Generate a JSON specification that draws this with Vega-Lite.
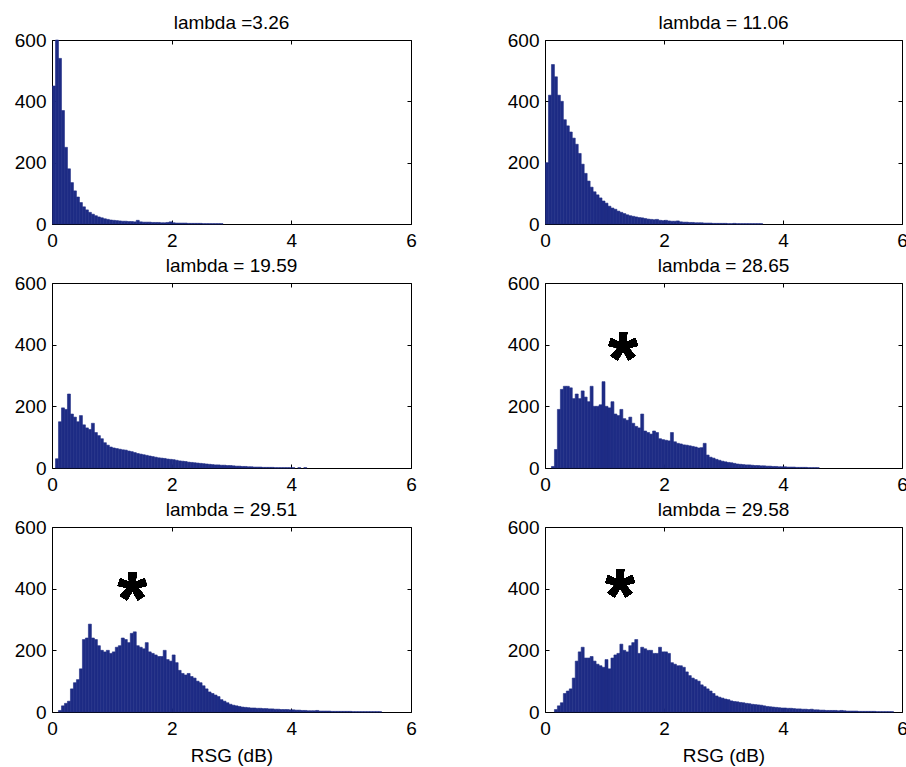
{
  "$schema": "https://vega.github.io/schema/vega-lite/v6.json",
  "background": "white",
  "padding": {"left": 13, "top": 13, "right": 0, "bottom": 0},
  "datasets": {
    "p1": [
      {"x":0.025,"n":450},{"x":0.075,"n":600},{"x":0.125,"n":540},{"x":0.175,"n":370},{"x":0.225,"n":250},{"x":0.275,"n":180},{"x":0.325,"n":135},{"x":0.375,"n":108},{"x":0.425,"n":88},{"x":0.475,"n":70},
      {"x":0.525,"n":56},{"x":0.575,"n":46},{"x":0.625,"n":38},{"x":0.675,"n":32},{"x":0.725,"n":27},{"x":0.775,"n":23},{"x":0.825,"n":20},{"x":0.875,"n":17},{"x":0.925,"n":15},{"x":0.975,"n":13},
      {"x":1.025,"n":12},{"x":1.075,"n":11},{"x":1.125,"n":10},{"x":1.175,"n":9},{"x":1.225,"n":9},{"x":1.275,"n":8},{"x":1.325,"n":8},{"x":1.375,"n":7},{"x":1.425,"n":12},{"x":1.475,"n":7},
      {"x":1.525,"n":6},{"x":1.575,"n":6},{"x":1.625,"n":6},{"x":1.675,"n":5},{"x":1.725,"n":5},{"x":1.775,"n":5},{"x":1.825,"n":4},{"x":1.875,"n":4},{"x":1.925,"n":5},{"x":1.975,"n":7},
      {"x":2.025,"n":4},{"x":2.075,"n":3},{"x":2.125,"n":3},{"x":2.175,"n":3},{"x":2.225,"n":3},{"x":2.275,"n":2},{"x":2.325,"n":2},{"x":2.375,"n":2},{"x":2.425,"n":2},{"x":2.475,"n":2},
      {"x":2.525,"n":1},{"x":2.575,"n":1},{"x":2.625,"n":1},{"x":2.675,"n":1},{"x":2.725,"n":1},{"x":2.775,"n":1},{"x":2.825,"n":1}
    ],
    "p2": [
      {"x":0.025,"n":200},{"x":0.075,"n":420},{"x":0.125,"n":520},{"x":0.175,"n":480},{"x":0.225,"n":420},{"x":0.275,"n":400},{"x":0.325,"n":340},{"x":0.375,"n":320},{"x":0.425,"n":300},{"x":0.475,"n":280},
      {"x":0.525,"n":260},{"x":0.575,"n":230},{"x":0.625,"n":195},{"x":0.675,"n":165},{"x":0.725,"n":140},{"x":0.775,"n":120},{"x":0.825,"n":105},{"x":0.875,"n":95},{"x":0.925,"n":85},{"x":0.975,"n":75},
      {"x":1.025,"n":68},{"x":1.075,"n":58},{"x":1.125,"n":52},{"x":1.175,"n":48},{"x":1.225,"n":42},{"x":1.275,"n":38},{"x":1.325,"n":34},{"x":1.375,"n":30},{"x":1.425,"n":27},{"x":1.475,"n":25},
      {"x":1.525,"n":23},{"x":1.575,"n":21},{"x":1.625,"n":20},{"x":1.675,"n":18},{"x":1.725,"n":16},{"x":1.775,"n":15},{"x":1.825,"n":14},{"x":1.875,"n":15},{"x":1.925,"n":12},{"x":1.975,"n":11},
      {"x":2.025,"n":12},{"x":2.075,"n":10},{"x":2.125,"n":9},{"x":2.175,"n":9},{"x":2.225,"n":10},{"x":2.275,"n":7},{"x":2.325,"n":6},{"x":2.375,"n":6},{"x":2.425,"n":5},{"x":2.475,"n":5},
      {"x":2.525,"n":4},{"x":2.575,"n":4},{"x":2.625,"n":4},{"x":2.675,"n":3},{"x":2.725,"n":3},{"x":2.775,"n":3},{"x":2.825,"n":2},{"x":2.875,"n":2},{"x":2.925,"n":2},{"x":2.975,"n":2},
      {"x":3.025,"n":2},{"x":3.075,"n":1},{"x":3.125,"n":1},{"x":3.175,"n":2},{"x":3.225,"n":1},{"x":3.275,"n":1},{"x":3.325,"n":1},{"x":3.375,"n":1},{"x":3.425,"n":1},{"x":3.475,"n":1},
      {"x":3.525,"n":1},{"x":3.575,"n":1},{"x":3.625,"n":1}
    ],
    "p3": [
      {"x":0.075,"n":30},{"x":0.125,"n":150},{"x":0.175,"n":195},{"x":0.225,"n":190},{"x":0.275,"n":240},{"x":0.325,"n":175},{"x":0.375,"n":165},{"x":0.425,"n":150},{"x":0.475,"n":170},
      {"x":0.525,"n":140},{"x":0.575,"n":130},{"x":0.625,"n":125},{"x":0.675,"n":145},{"x":0.725,"n":115},{"x":0.775,"n":105},{"x":0.825,"n":95},{"x":0.875,"n":82},{"x":0.925,"n":74},{"x":0.975,"n":68},
      {"x":1.025,"n":65},{"x":1.075,"n":63},{"x":1.125,"n":61},{"x":1.175,"n":59},{"x":1.225,"n":58},{"x":1.275,"n":55},{"x":1.325,"n":53},{"x":1.375,"n":50},{"x":1.425,"n":47},{"x":1.475,"n":45},
      {"x":1.525,"n":43},{"x":1.575,"n":41},{"x":1.625,"n":39},{"x":1.675,"n":37},{"x":1.725,"n":35},{"x":1.775,"n":33},{"x":1.825,"n":32},{"x":1.875,"n":31},{"x":1.925,"n":29},{"x":1.975,"n":28},
      {"x":2.025,"n":27},{"x":2.075,"n":25},{"x":2.125,"n":23},{"x":2.175,"n":22},{"x":2.225,"n":21},{"x":2.275,"n":19},{"x":2.325,"n":18},{"x":2.375,"n":17},{"x":2.425,"n":16},{"x":2.475,"n":15},
      {"x":2.525,"n":14},{"x":2.575,"n":13},{"x":2.625,"n":12},{"x":2.675,"n":11},{"x":2.725,"n":10},{"x":2.775,"n":10},{"x":2.825,"n":9},{"x":2.875,"n":9},{"x":2.925,"n":8},{"x":2.975,"n":8},
      {"x":3.025,"n":7},{"x":3.075,"n":6},{"x":3.125,"n":6},{"x":3.175,"n":5},{"x":3.225,"n":5},{"x":3.275,"n":4},{"x":3.325,"n":4},{"x":3.375,"n":3},{"x":3.425,"n":3},{"x":3.475,"n":3},
      {"x":3.525,"n":2},{"x":3.575,"n":2},{"x":3.625,"n":2},{"x":3.675,"n":2},{"x":3.725,"n":1},{"x":3.775,"n":1},{"x":3.825,"n":1},{"x":3.875,"n":1},{"x":3.925,"n":1},{"x":3.975,"n":1},
      {"x":4.025,"n":1},{"x":4.125,"n":1},{"x":4.225,"n":1}
    ],
    "p4": [
      {"x":0.125,"n":5},{"x":0.175,"n":60},{"x":0.225,"n":190},{"x":0.275,"n":255},{"x":0.325,"n":265},{"x":0.375,"n":265},{"x":0.425,"n":260},{"x":0.475,"n":225},
      {"x":0.525,"n":240},{"x":0.575,"n":225},{"x":0.625,"n":250},{"x":0.675,"n":230},{"x":0.725,"n":215},{"x":0.775,"n":265},{"x":0.825,"n":200},{"x":0.875,"n":200},{"x":0.925,"n":205},{"x":0.975,"n":280},
      {"x":1.025,"n":200},{"x":1.075,"n":195},{"x":1.125,"n":215},{"x":1.175,"n":175},{"x":1.225,"n":170},{"x":1.275,"n":190},{"x":1.325,"n":160},{"x":1.375,"n":155},{"x":1.425,"n":165},{"x":1.475,"n":145},
      {"x":1.525,"n":135},{"x":1.575,"n":130},{"x":1.625,"n":175},{"x":1.675,"n":120},{"x":1.725,"n":115},{"x":1.775,"n":110},{"x":1.825,"n":120},{"x":1.875,"n":115},{"x":1.925,"n":95},{"x":1.975,"n":92},
      {"x":2.025,"n":90},{"x":2.075,"n":88},{"x":2.125,"n":115},{"x":2.175,"n":85},{"x":2.225,"n":80},{"x":2.275,"n":78},{"x":2.325,"n":75},{"x":2.375,"n":74},{"x":2.425,"n":72},{"x":2.475,"n":70},
      {"x":2.525,"n":68},{"x":2.575,"n":65},{"x":2.625,"n":66},{"x":2.675,"n":80},{"x":2.725,"n":42},{"x":2.775,"n":35},{"x":2.825,"n":32},{"x":2.875,"n":28},{"x":2.925,"n":25},{"x":2.975,"n":22},
      {"x":3.025,"n":20},{"x":3.075,"n":18},{"x":3.125,"n":17},{"x":3.175,"n":15},{"x":3.225,"n":13},{"x":3.275,"n":12},{"x":3.325,"n":11},{"x":3.375,"n":10},{"x":3.425,"n":10},{"x":3.475,"n":9},
      {"x":3.525,"n":8},{"x":3.575,"n":8},{"x":3.625,"n":7},{"x":3.675,"n":7},{"x":3.725,"n":6},{"x":3.775,"n":6},{"x":3.825,"n":5},{"x":3.875,"n":5},{"x":3.925,"n":4},{"x":3.975,"n":4},
      {"x":4.025,"n":4},{"x":4.075,"n":3},{"x":4.125,"n":3},{"x":4.175,"n":3},{"x":4.225,"n":2},{"x":4.275,"n":2},{"x":4.325,"n":2},{"x":4.375,"n":2},{"x":4.425,"n":1},{"x":4.475,"n":1},
      {"x":4.525,"n":1},{"x":4.575,"n":1}
    ],
    "p5": [
      {"x":0.125,"n":5},{"x":0.175,"n":20},{"x":0.225,"n":28},{"x":0.275,"n":35},{"x":0.325,"n":75},{"x":0.375,"n":95},{"x":0.425,"n":105},{"x":0.475,"n":140},
      {"x":0.525,"n":235},{"x":0.575,"n":240},{"x":0.625,"n":285},{"x":0.675,"n":240},{"x":0.725,"n":235},{"x":0.775,"n":215},{"x":0.825,"n":200},{"x":0.875,"n":195},{"x":0.925,"n":200},{"x":0.975,"n":190},
      {"x":1.025,"n":195},{"x":1.075,"n":210},{"x":1.125,"n":215},{"x":1.175,"n":240},{"x":1.225,"n":235},{"x":1.275,"n":225},{"x":1.325,"n":255},{"x":1.375,"n":260},{"x":1.425,"n":215},{"x":1.475,"n":210},
      {"x":1.525,"n":205},{"x":1.575,"n":225},{"x":1.625,"n":195},{"x":1.675,"n":190},{"x":1.725,"n":185},{"x":1.775,"n":180},{"x":1.825,"n":180},{"x":1.875,"n":200},{"x":1.925,"n":170},{"x":1.975,"n":165},
      {"x":2.025,"n":185},{"x":2.075,"n":160},{"x":2.125,"n":135},{"x":2.175,"n":125},{"x":2.225,"n":120},{"x":2.275,"n":125},{"x":2.325,"n":115},{"x":2.375,"n":110},{"x":2.425,"n":100},{"x":2.475,"n":95},
      {"x":2.525,"n":85},{"x":2.575,"n":75},{"x":2.625,"n":65},{"x":2.675,"n":60},{"x":2.725,"n":55},{"x":2.775,"n":50},{"x":2.825,"n":40},{"x":2.875,"n":35},{"x":2.925,"n":30},{"x":2.975,"n":25},
      {"x":3.025,"n":22},{"x":3.075,"n":20},{"x":3.125,"n":18},{"x":3.175,"n":16},{"x":3.225,"n":15},{"x":3.275,"n":14},{"x":3.325,"n":13},{"x":3.375,"n":13},{"x":3.425,"n":12},{"x":3.475,"n":12},
      {"x":3.525,"n":11},{"x":3.575,"n":11},{"x":3.625,"n":10},{"x":3.675,"n":10},{"x":3.725,"n":9},{"x":3.775,"n":9},{"x":3.825,"n":8},{"x":3.875,"n":8},{"x":3.925,"n":8},{"x":3.975,"n":7},
      {"x":4.025,"n":7},{"x":4.075,"n":6},{"x":4.125,"n":6},{"x":4.175,"n":5},{"x":4.225,"n":5},{"x":4.275,"n":4},{"x":4.325,"n":4},{"x":4.375,"n":4},{"x":4.425,"n":5},{"x":4.475,"n":3},
      {"x":4.525,"n":3},{"x":4.575,"n":3},{"x":4.625,"n":3},{"x":4.675,"n":2},{"x":4.725,"n":2},{"x":4.775,"n":2},{"x":4.825,"n":2},{"x":4.875,"n":2},{"x":4.925,"n":2},{"x":4.975,"n":2},
      {"x":5.025,"n":1},{"x":5.075,"n":1},{"x":5.125,"n":1},{"x":5.175,"n":1},{"x":5.225,"n":1},{"x":5.275,"n":1},{"x":5.325,"n":1},{"x":5.375,"n":1},{"x":5.425,"n":1},{"x":5.475,"n":1}
    ],
    "p6": [
      {"x":0.175,"n":8},{"x":0.225,"n":20},{"x":0.275,"n":30},{"x":0.325,"n":60},{"x":0.375,"n":68},{"x":0.425,"n":75},{"x":0.475,"n":110},
      {"x":0.525,"n":165},{"x":0.575,"n":195},{"x":0.625,"n":210},{"x":0.675,"n":175},{"x":0.725,"n":175},{"x":0.775,"n":180},{"x":0.825,"n":165},{"x":0.875,"n":155},{"x":0.925,"n":150},{"x":0.975,"n":145},
      {"x":1.025,"n":170},{"x":1.075,"n":140},{"x":1.125,"n":175},{"x":1.175,"n":185},{"x":1.225,"n":190},{"x":1.275,"n":220},{"x":1.325,"n":200},{"x":1.375,"n":195},{"x":1.425,"n":215},{"x":1.475,"n":225},
      {"x":1.525,"n":235},{"x":1.575,"n":190},{"x":1.625,"n":210},{"x":1.675,"n":205},{"x":1.725,"n":200},{"x":1.775,"n":200},{"x":1.825,"n":190},{"x":1.875,"n":190},{"x":1.925,"n":210},{"x":1.975,"n":195},
      {"x":2.025,"n":195},{"x":2.075,"n":190},{"x":2.125,"n":160},{"x":2.175,"n":155},{"x":2.225,"n":150},{"x":2.275,"n":150},{"x":2.325,"n":145},{"x":2.375,"n":130},{"x":2.425,"n":118},{"x":2.475,"n":110},
      {"x":2.525,"n":105},{"x":2.575,"n":100},{"x":2.625,"n":88},{"x":2.675,"n":82},{"x":2.725,"n":75},{"x":2.775,"n":68},{"x":2.825,"n":60},{"x":2.875,"n":52},{"x":2.925,"n":48},{"x":2.975,"n":45},
      {"x":3.025,"n":42},{"x":3.075,"n":40},{"x":3.125,"n":36},{"x":3.175,"n":34},{"x":3.225,"n":33},{"x":3.275,"n":31},{"x":3.325,"n":30},{"x":3.375,"n":28},{"x":3.425,"n":27},{"x":3.475,"n":25},
      {"x":3.525,"n":24},{"x":3.575,"n":23},{"x":3.625,"n":22},{"x":3.675,"n":20},{"x":3.725,"n":18},{"x":3.775,"n":17},{"x":3.825,"n":16},{"x":3.875,"n":15},{"x":3.925,"n":14},{"x":3.975,"n":13},
      {"x":4.025,"n":13},{"x":4.075,"n":12},{"x":4.125,"n":12},{"x":4.175,"n":11},{"x":4.225,"n":10},{"x":4.275,"n":10},{"x":4.325,"n":9},{"x":4.375,"n":9},{"x":4.425,"n":8},{"x":4.475,"n":9},
      {"x":4.525,"n":7},{"x":4.575,"n":7},{"x":4.625,"n":6},{"x":4.675,"n":6},{"x":4.725,"n":5},{"x":4.775,"n":5},{"x":4.825,"n":5},{"x":4.875,"n":5},{"x":4.925,"n":4},{"x":4.975,"n":5},
      {"x":5.025,"n":4},{"x":5.075,"n":3},{"x":5.125,"n":3},{"x":5.175,"n":3},{"x":5.225,"n":3},{"x":5.275,"n":2},{"x":5.325,"n":2},{"x":5.375,"n":2},{"x":5.425,"n":2},{"x":5.475,"n":2},
      {"x":5.525,"n":2},{"x":5.575,"n":1},{"x":5.625,"n":1},{"x":5.675,"n":1},{"x":5.725,"n":1},{"x":5.775,"n":1},{"x":5.825,"n":1}
    ]
  },
  "columns": 2,
  "spacing": {"row": 59, "column": 134},
  "bounds": "flush",
  "concat": [
    {
      "width": 359, "height": 184,
      "data": {"name": "p1"},
      "title": "lambda =3.26",
      "layer": [
        {"mark": {"type": "bar", "fill": "#1e2c85", "stroke": "#1e2c85", "strokeWidth": 0.6, "binSpacing": 0},
         "encoding": {
           "x": {"field": "x", "type": "quantitative", "bin": {"extent": [0, 6], "step": 0.05}, "scale": {"domain": [0, 6], "padding": 0, "nice": false}, "axis": {"values": [0, 2, 4, 6], "format": "d", "title": null}},
           "y": {"aggregate": "sum", "field": "n", "type": "quantitative", "scale": {"domain": [0, 600], "padding": 0, "nice": false}, "axis": {"values": [0, 200, 400, 600], "title": null}}}},
        {"mark": {"type": "bar", "opacity": 0, "binSpacing": 0},
         "encoding": {
           "x": {"field": "x", "type": "quantitative", "bin": {"extent": [0, 6], "step": 0.05}, "axis": {"orient": "top", "values": [0, 2, 4, 6], "labels": false, "title": null}},
           "y": {"aggregate": "sum", "field": "n", "type": "quantitative", "axis": {"orient": "right", "values": [0, 200, 400, 600], "labels": false, "title": null}}}}
      ],
      "resolve": {"axis": {"x": "independent", "y": "independent"}}
    },
    {
      "width": 357, "height": 184,
      "data": {"name": "p2"},
      "title": "lambda = 11.06",
      "layer": [
        {"mark": {"type": "bar", "fill": "#1e2c85", "stroke": "#1e2c85", "strokeWidth": 0.6, "binSpacing": 0},
         "encoding": {
           "x": {"field": "x", "type": "quantitative", "bin": {"extent": [0, 6], "step": 0.05}, "scale": {"domain": [0, 6], "padding": 0, "nice": false}, "axis": {"values": [0, 2, 4, 6], "format": "d", "title": null}},
           "y": {"aggregate": "sum", "field": "n", "type": "quantitative", "scale": {"domain": [0, 600], "padding": 0, "nice": false}, "axis": {"values": [0, 200, 400, 600], "title": null}}}},
        {"mark": {"type": "bar", "opacity": 0, "binSpacing": 0},
         "encoding": {
           "x": {"field": "x", "type": "quantitative", "bin": {"extent": [0, 6], "step": 0.05}, "axis": {"orient": "top", "values": [0, 2, 4, 6], "labels": false, "title": null}},
           "y": {"aggregate": "sum", "field": "n", "type": "quantitative", "axis": {"orient": "right", "values": [0, 200, 400, 600], "labels": false, "title": null}}}}
      ],
      "resolve": {"axis": {"x": "independent", "y": "independent"}}
    },
    {
      "width": 359, "height": 185,
      "data": {"name": "p3"},
      "title": "lambda = 19.59",
      "layer": [
        {"mark": {"type": "bar", "fill": "#1e2c85", "stroke": "#1e2c85", "strokeWidth": 0.6, "binSpacing": 0},
         "encoding": {
           "x": {"field": "x", "type": "quantitative", "bin": {"extent": [0, 6], "step": 0.05}, "scale": {"domain": [0, 6], "padding": 0, "nice": false}, "axis": {"values": [0, 2, 4, 6], "format": "d", "title": null}},
           "y": {"aggregate": "sum", "field": "n", "type": "quantitative", "scale": {"domain": [0, 600], "padding": 0, "nice": false}, "axis": {"values": [0, 200, 400, 600], "title": null}}}},
        {"mark": {"type": "bar", "opacity": 0, "binSpacing": 0},
         "encoding": {
           "x": {"field": "x", "type": "quantitative", "bin": {"extent": [0, 6], "step": 0.05}, "axis": {"orient": "top", "values": [0, 2, 4, 6], "labels": false, "title": null}},
           "y": {"aggregate": "sum", "field": "n", "type": "quantitative", "axis": {"orient": "right", "values": [0, 200, 400, 600], "labels": false, "title": null}}}}
      ],
      "resolve": {"axis": {"x": "independent", "y": "independent"}}
    },
    {
      "width": 357, "height": 185,
      "data": {"name": "p4"},
      "title": "lambda = 28.65",
      "layer": [
        {"mark": {"type": "bar", "fill": "#1e2c85", "stroke": "#1e2c85", "strokeWidth": 0.6, "binSpacing": 0},
         "encoding": {
           "x": {"field": "x", "type": "quantitative", "bin": {"extent": [0, 6], "step": 0.05}, "scale": {"domain": [0, 6], "padding": 0, "nice": false}, "axis": {"values": [0, 2, 4, 6], "format": "d", "title": null}},
           "y": {"aggregate": "sum", "field": "n", "type": "quantitative", "scale": {"domain": [0, 600], "padding": 0, "nice": false}, "axis": {"values": [0, 200, 400, 600], "title": null}}}},
        {"mark": {"type": "bar", "opacity": 0, "binSpacing": 0},
         "encoding": {
           "x": {"field": "x", "type": "quantitative", "bin": {"extent": [0, 6], "step": 0.05}, "axis": {"orient": "top", "values": [0, 2, 4, 6], "labels": false, "title": null}},
           "y": {"aggregate": "sum", "field": "n", "type": "quantitative", "axis": {"orient": "right", "values": [0, 200, 400, 600], "labels": false, "title": null}}}},
        {"mark": {"type": "text", "text": "*", "font": "Liberation Sans", "fontSize": 76, "fontWeight": "bold", "color": "#000", "align": "center", "baseline": "middle", "dy": 17},
         "encoding": {"x": {"datum": 1.31, "type": "quantitative", "axis": null}, "y": {"datum": 402, "type": "quantitative", "axis": null}}}
      ],
      "resolve": {"axis": {"x": "independent", "y": "independent"}}
    },
    {
      "width": 359, "height": 185,
      "data": {"name": "p5"},
      "title": "lambda = 29.51",
      "layer": [
        {"mark": {"type": "bar", "fill": "#1e2c85", "stroke": "#1e2c85", "strokeWidth": 0.6, "binSpacing": 0},
         "encoding": {
           "x": {"field": "x", "type": "quantitative", "bin": {"extent": [0, 6], "step": 0.05}, "scale": {"domain": [0, 6], "padding": 0, "nice": false}, "axis": {"values": [0, 2, 4, 6], "format": "d", "title": "RSG (dB)"}},
           "y": {"aggregate": "sum", "field": "n", "type": "quantitative", "scale": {"domain": [0, 600], "padding": 0, "nice": false}, "axis": {"values": [0, 200, 400, 600], "title": null}}}},
        {"mark": {"type": "bar", "opacity": 0, "binSpacing": 0},
         "encoding": {
           "x": {"field": "x", "type": "quantitative", "bin": {"extent": [0, 6], "step": 0.05}, "axis": {"orient": "top", "values": [0, 2, 4, 6], "labels": false, "title": null}},
           "y": {"aggregate": "sum", "field": "n", "type": "quantitative", "axis": {"orient": "right", "values": [0, 200, 400, 600], "labels": false, "title": null}}}},
        {"mark": {"type": "text", "text": "*", "font": "Liberation Sans", "fontSize": 76, "fontWeight": "bold", "color": "#000", "align": "center", "baseline": "middle", "dy": 17},
         "encoding": {"x": {"datum": 1.34, "type": "quantitative", "axis": null}, "y": {"datum": 415, "type": "quantitative", "axis": null}}}
      ],
      "resolve": {"axis": {"x": "independent", "y": "independent"}}
    },
    {
      "width": 357, "height": 185,
      "data": {"name": "p6"},
      "title": "lambda = 29.58",
      "layer": [
        {"mark": {"type": "bar", "fill": "#1e2c85", "stroke": "#1e2c85", "strokeWidth": 0.6, "binSpacing": 0},
         "encoding": {
           "x": {"field": "x", "type": "quantitative", "bin": {"extent": [0, 6], "step": 0.05}, "scale": {"domain": [0, 6], "padding": 0, "nice": false}, "axis": {"values": [0, 2, 4, 6], "format": "d", "title": "RSG (dB)"}},
           "y": {"aggregate": "sum", "field": "n", "type": "quantitative", "scale": {"domain": [0, 600], "padding": 0, "nice": false}, "axis": {"values": [0, 200, 400, 600], "title": null}}}},
        {"mark": {"type": "bar", "opacity": 0, "binSpacing": 0},
         "encoding": {
           "x": {"field": "x", "type": "quantitative", "bin": {"extent": [0, 6], "step": 0.05}, "axis": {"orient": "top", "values": [0, 2, 4, 6], "labels": false, "title": null}},
           "y": {"aggregate": "sum", "field": "n", "type": "quantitative", "axis": {"orient": "right", "values": [0, 200, 400, 600], "labels": false, "title": null}}}},
        {"mark": {"type": "text", "text": "*", "font": "Liberation Sans", "fontSize": 76, "fontWeight": "bold", "color": "#000", "align": "center", "baseline": "middle", "dy": 17},
         "encoding": {"x": {"datum": 1.26, "type": "quantitative", "axis": null}, "y": {"datum": 425, "type": "quantitative", "axis": null}}}
      ],
      "resolve": {"axis": {"x": "independent", "y": "independent"}}
    }
  ],
  "config": {
    "font": "Liberation Sans",
    "view": {"stroke": "#000", "strokeWidth": 1},
    "axis": {
      "domain": false, "grid": false, "labelFlush": false,
      "tickSize": -4, "tickColor": "#000", "tickWidth": 1,
      "labelFont": "Liberation Sans", "labelFontSize": 19, "labelColor": "#000",
      "titleFont": "Liberation Sans", "titleFontSize": 19, "titleFontWeight": "normal", "titleColor": "#000", "titlePadding": 8
    },
    "axisLeft": {"labelPadding": 10},
    "axisBottom": {"labelPadding": 11},
    "title": {"font": "Liberation Sans", "fontSize": 19, "fontWeight": "normal", "color": "#000", "baseline": "alphabetic", "offset": -2, "frame": "group"}
  }
}
